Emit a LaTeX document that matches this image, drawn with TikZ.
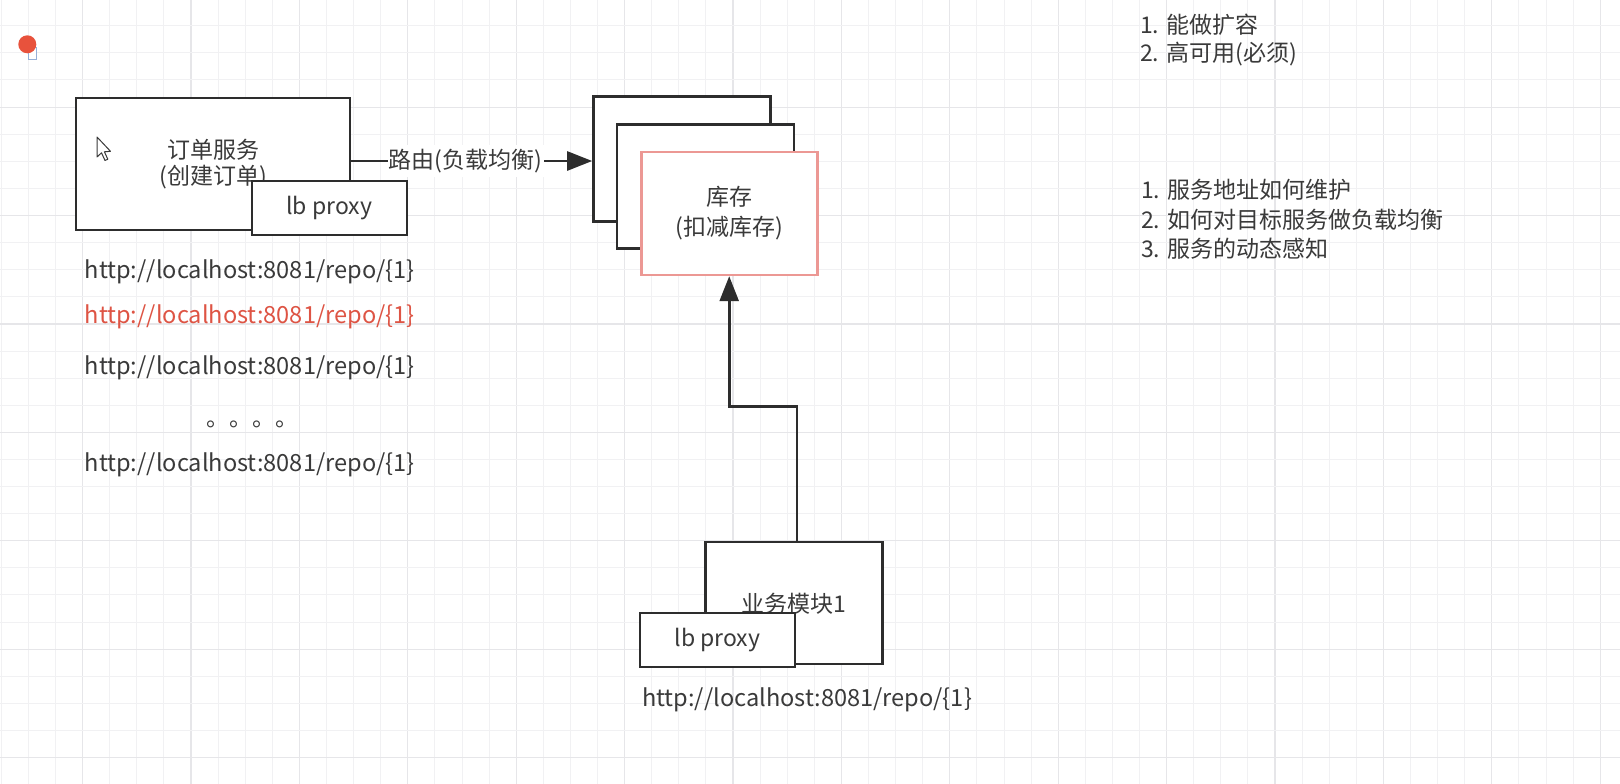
\documentclass[tikz,border=0pt]{standalone}
\usepackage{fontspec}
\setmainfont{Noto Sans CJK SC}
\usetikzlibrary{arrows.meta,calc}
\definecolor{ink}{RGB}{58,58,58}
\definecolor{edge}{RGB}{45,45,45}
\definecolor{redtxt}{RGB}{222,84,68}
\definecolor{redbox}{RGB}{236,152,148}
\definecolor{gridminor}{RGB}{241,241,243}
\definecolor{gridmajor}{RGB}{230,230,233}
\definecolor{dotred}{RGB}{232,82,60}
\definecolor{iconblue}{RGB}{150,175,215}
\tikzset{
  txt/.style={font=\fontsize{23}{30}\selectfont, text=ink, inner sep=0pt},
  url/.style={font=\fontsize{23.6}{30}\selectfont, text=ink, inner sep=0pt},
  box/.style={draw=edge, line width=2.6pt, fill=white, rectangle, inner sep=0pt,
              font=\fontsize{23}{30}\selectfont, text=ink, align=center},
  conn/.style={draw=edge, line width=2.6pt, -{Triangle[length=25pt,width=19pt]}},
}
\begin{document}
\begin{tikzpicture}[x=1pt,y=-1pt]
\useasboundingbox (0,0) rectangle (1620,784);
\fill[white] (0,0) rectangle (1620,784);
% grid
\foreach \k in {0,...,59} {
  \pgfmathsetmacro{\gx}{1.3+27.1*\k}
  \pgfmathtruncatemacro{\m}{mod(\k,4)}
  \ifnum\m=3 \draw[gridmajor, line width=1.2pt] (\gx,0) -- (\gx,784);
  \else \draw[gridminor, line width=1pt] (\gx,0) -- (\gx,784); \fi
}
\foreach \k in {-1,...,28} {
  \pgfmathsetmacro{\gy}{25.8+27.1*\k}
  \pgfmathtruncatemacro{\m}{mod(\k+4,4)}
  \ifnum\m=3 \draw[gridmajor, line width=1.2pt] (0,\gy) -- (1620,\gy);
  \else \draw[gridminor, line width=1pt] (0,\gy) -- (1620,\gy); \fi
}
% top-left recording indicator
\draw[iconblue, line width=1pt, fill=white] (28,48) rectangle (36,60);
\fill[dotred] (27.3,44.3) circle (9);

% order service
\node[box, minimum width=274pt, minimum height=132pt] (order) at (213,164) {订单服务\\[-4pt](创建订单)};
\node[box, minimum width=155pt, minimum height=54pt] (lbp1) at (329.3,208) {lb proxy};
% mouse cursor
\draw[fill=white, draw=ink, line width=1pt, line join=round]
  (97,137) -- (97,157) -- (101.5,152.8) -- (105,160.5) -- (107.8,159.2) -- (104.4,151.8) -- (110.5,151.3) -- cycle;

% inventory stack
\node[box, minimum width=177pt, minimum height=125pt] (back) at (682,159.2) {};
\node[box, minimum width=177pt, minimum height=124pt] (mid) at (705.5,186.2) {};
\node[box, draw=redbox, minimum width=176pt, minimum height=123pt] (front) at (729.2,213.4) {库存\\[0pt](扣减库存)};

% business module
\node[box, minimum width=177pt, minimum height=122pt, text depth=0pt] (biz) at (793.9,602.9) {业务模块1};
\node[box, minimum width=155pt, minimum height=54pt] (lbp2) at (717.5,640) {lb proxy};

% connectors
\coordinate (oe) at (order.east |- 0,161);
\coordinate (bw) at (back.west |- 0,161);
\draw[conn] (oe) -- node[pos=0.475, fill=white, txt, inner xsep=1pt, inner ysep=4pt] (route) {路由(负载均衡)} (bw);
\coordinate (bn) at ($(biz.north)+(3,0)$);
\draw[conn] (bn) -- ++(0,-134) -| (front.south);

% URL list
\node[url] (u1) at (249.7,271.7) {http://localhost:8081/repo/\{1\}};
\node[url, text=redtxt] (u2) at (249.7,317.3) {http://localhost:8081/repo/\{1\}};
\node[url] (u3) at (249.7,368.3) {http://localhost:8081/repo/\{1\}};
\node[txt] (dots) at (252,424) {。。。。};
\node[url] (u4) at (249.7,465) {http://localhost:8081/repo/\{1\}};
\node[url] (u5) at (807,700) {http://localhost:8081/repo/\{1\}};

% notes
\node[txt, anchor=west] (n1) at (1140,24.5) {1. 能做扩容};
\node[txt, anchor=west] (n2) at (1140,54) {2. 高可用(必须)};
\node[txt, anchor=west] (n3) at (1141,190) {1. 服务地址如何维护};
\node[txt, anchor=west] (n4) at (1141,219.5) {2. 如何对目标服务做负载均衡};
\node[txt, anchor=west] (n5) at (1141,249) {3. 服务的动态感知};
\end{tikzpicture}
\end{document}
